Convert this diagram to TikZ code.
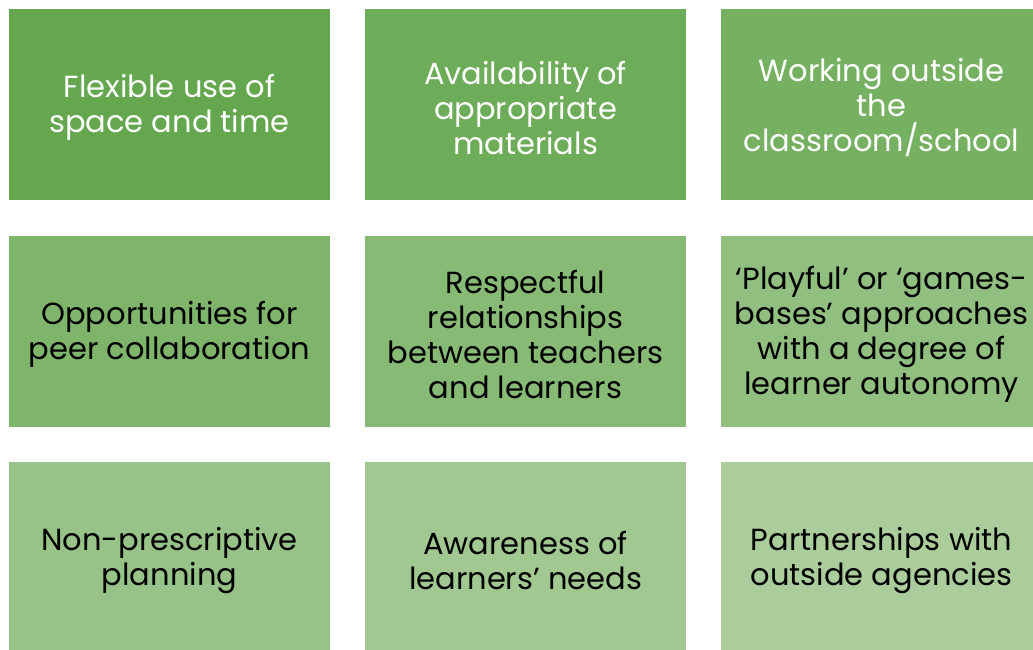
\documentclass[tikz,border=0pt]{standalone}
\usepackage{fontspec}
\setmainfont{Poppins}
\definecolor{tilestart}{HTML}{64A74F}
\definecolor{tileend}{HTML}{AACD9B}
\tikzset{
    tile/.style={rectangle, minimum width=321pt, minimum height=191pt,
        inner sep=0pt},
    tiletext/.style={align=center, yshift=-3pt,
        font=\fontsize{30.5}{35}\selectfont},
}

\begin{document}
\begin{tikzpicture}[x=1pt, y=-1pt]
    \useasboundingbox (0,0) rectangle (1033,650);
    \clip (0,0) rectangle (1033,650);
    \fill[white] (0,0) rectangle (1033,650);

    % nine tiles, three per row, shading lighter towards the last one
    \foreach \txt [count=\i from 0] in {
        {Flexible use of\\space and time},
        {Availability of\\appropriate\\materials},
        {Working outside\\the\\classroom/school},
        {Opportunities for\\peer collaboration},
        {Respectful\\relationships\\between teachers\\and learners},
        {‘Playful’ or ‘games-\\bases’ approaches\\with a degree of\\learner autonomy},
        {Non-prescriptive\\planning},
        {Awareness of\\learners’ needs},
        {Partnerships with\\outside agencies}} {
        \pgfmathtruncatemacro{\col}{mod(\i,3)}
        \pgfmathtruncatemacro{\row}{div(\i,3)}
        \pgfmathsetmacro{\shade}{\i*100/8}
        \ifnum\row=0 \def\ink{white}\else \def\ink{black}\fi
        \node[tile, fill=tileend!\shade!tilestart,
            label={[tiletext, text=\ink]center:{\txt}}]
            (tile\i) at (169.5+356*\col, 104.5+226.5*\row) {};
    }
\end{tikzpicture}
\end{document}
